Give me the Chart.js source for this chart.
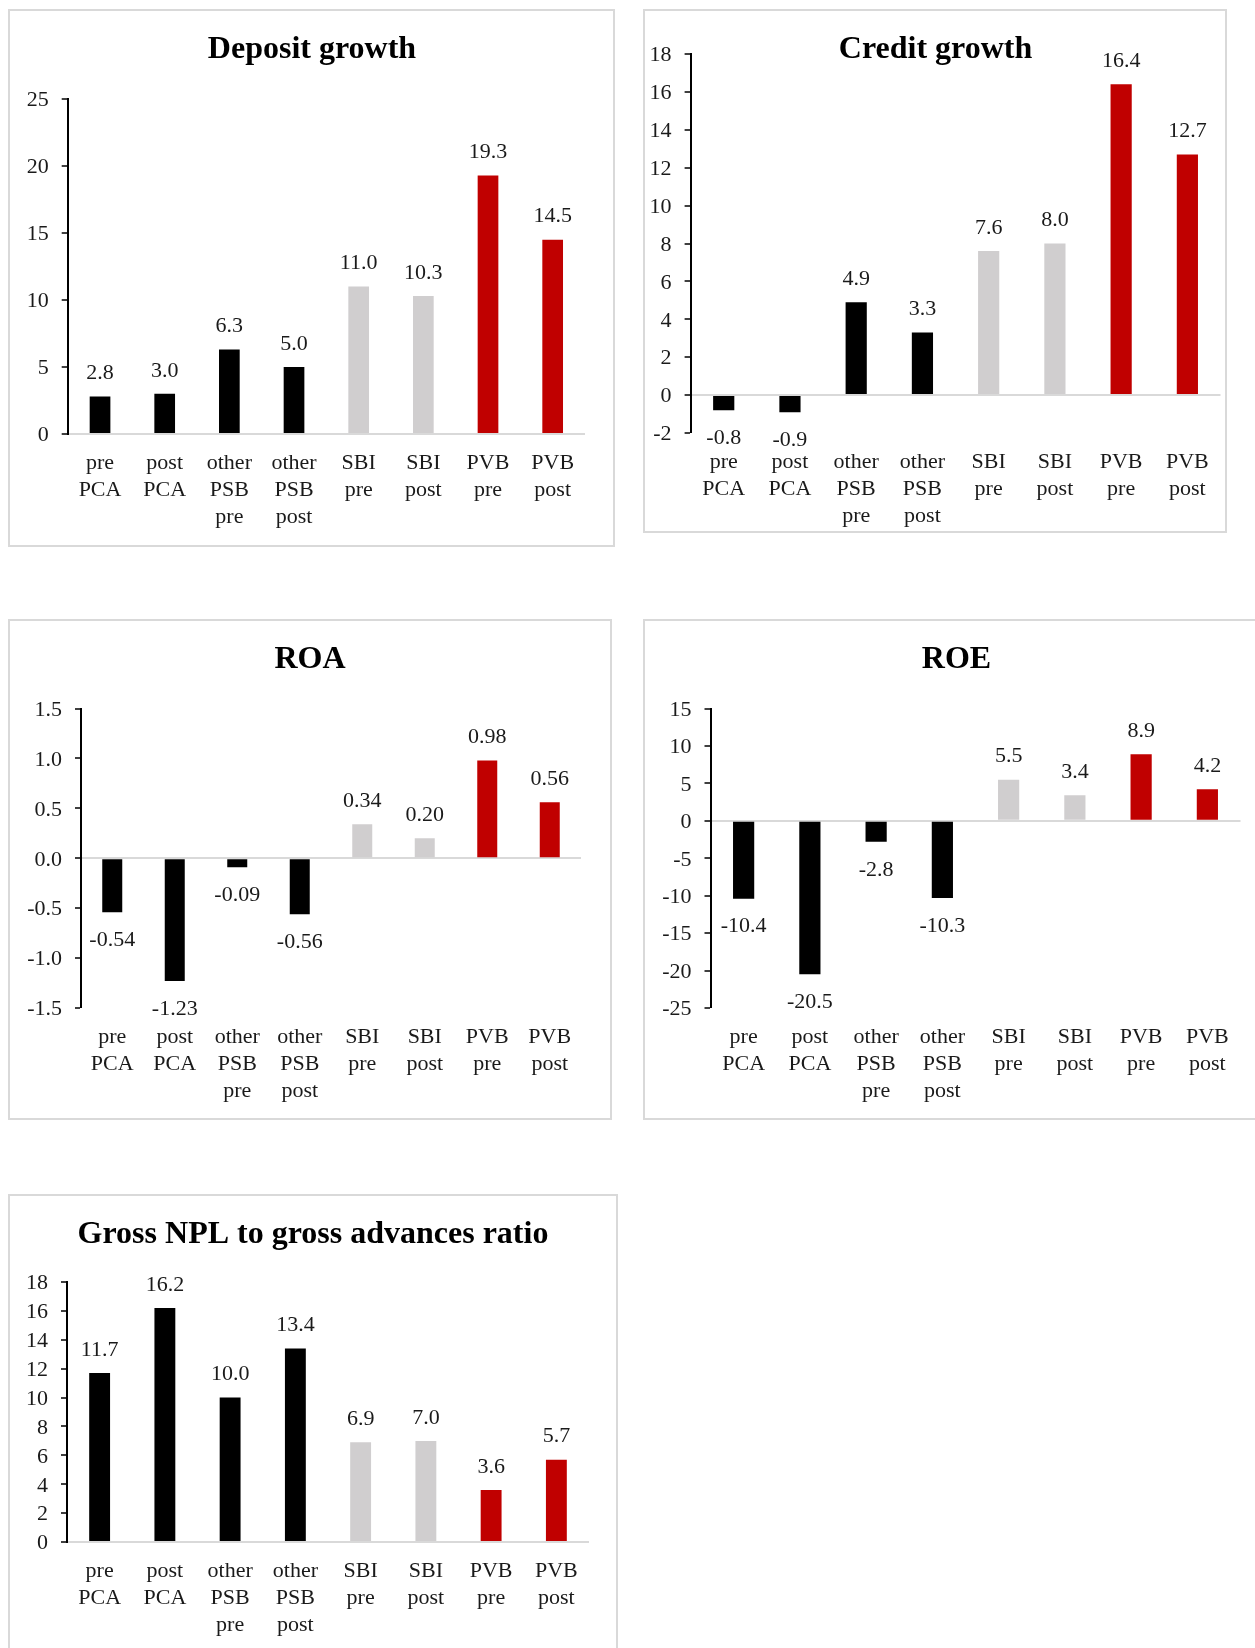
<!DOCTYPE html>
<html><head><meta charset="utf-8">
<script src="https://cdn.jsdelivr.net/npm/chart.js@4.4.1/dist/chart.umd.min.js"></script>
<style>
html,body{margin:0;padding:0;background:#fff;overflow:hidden;width:1255px;height:1648px;position:relative}
.box{position:absolute;border:2px solid #d9d9d9;box-sizing:border-box}
canvas{position:absolute}
</style></head><body>
<script>
// ---- data ----
const categories = [['pre','PCA'],['post','PCA'],['other','PSB','pre'],['other','PSB','post'],['SBI','pre'],['SBI','post'],['PVB','pre'],['PVB','post']];
const barColors = ['#000000','#000000','#000000','#000000','#d0cecf','#d0cecf','#c00000','#c00000'];
const depositGrowth = [2.8, 3.0, 6.3, 5.0, 11.0, 10.3, 19.3, 14.5];
const creditGrowth = [-0.8, -0.9, 4.9, 3.3, 7.6, 8.0, 16.4, 12.7];
const roa = [-0.54, -1.23, -0.09, -0.56, 0.34, 0.20, 0.98, 0.56];
const roe = [-10.4, -20.5, -2.8, -10.3, 5.5, 3.4, 8.9, 4.2];
const grossNpl = [11.7, 16.2, 10.0, 13.4, 6.9, 7.0, 3.6, 5.7];
const titles = ['Deposit growth', 'Credit growth', 'ROA', 'ROE', 'Gross NPL to gross advances ratio'];
const yMin = [0, -2, -1.5, -25, 0];
const yMax = [25, 18, 1.5, 15, 18];
const yStep = [5, 2, 0.5, 5, 2];
const tickDecimals = [0, 0, 1, 0, 0];
const labelDecimals = [1, 1, 2, 1, 1];
const seriesList = [depositGrowth, creditGrowth, roa, roe, grossNpl];

// ---- layout (page px) ----
const panels = [
  {box:[8,9,607,538],    area:[67.7,99,585,434],      title:[312,50]},
  {box:[643,9,584,524],  area:[690.6,54,1220.5,433],  title:[935.5,50]},
  {box:[8,619,604,501],  area:[81,708.5,581,1008],    title:[310,660]},
  {box:[643,619,630,501],area:[710.5,708.5,1240.5,1008],title:[956.5,660]},
  {box:[8,1194,610,480], area:[67,1282,589,1542],     title:[313,1235]}
];
const FONT = '"Liberation Serif", "Times New Roman", serif';
const TEXT = '#1a1a1a';
const XH = 100;

const labelPlugin = {
  id: 'valueLabels',
  afterDatasetsDraw(chart, args, opts) {
    const ctx = chart.ctx;
    const meta = chart.getDatasetMeta(0);
    const data = chart.data.datasets[0].data;
    ctx.save();
    ctx.font = '22px ' + FONT;
    ctx.fillStyle = TEXT;
    ctx.textAlign = 'center';
    ctx.textBaseline = 'middle';
    meta.data.forEach((el, i) => {
      const v = data[i];
      const y = v >= 0 ? el.y - 23 : el.y + 28;
      ctx.fillText(v.toFixed(opts.decimals), el.x, y);
    });
    ctx.restore();
  }
};
const titlePlugin = {
  id: 'panelTitle',
  afterDraw(chart, args, opts) {
    const ctx = chart.ctx;
    ctx.save();
    ctx.font = 'bold 32px ' + FONT;
    ctx.fillStyle = '#000';
    ctx.textAlign = 'center';
    ctx.textBaseline = 'middle';
    ctx.fillText(opts.text, opts.x, opts.y);
    ctx.restore();
  }
};

panels.forEach((p, k) => {
  const [bx, by, bw, bh] = p.box;
  const div = document.createElement('div');
  div.className = 'box';
  div.style.left = bx + 'px'; div.style.top = by + 'px';
  div.style.width = bw + 'px'; div.style.height = bh + 'px';
  document.body.appendChild(div);
  const cw = Math.min(bw, 1255 - bx), ch = Math.min(bh, 1648 - by);
  const cv = document.createElement('canvas');
  cv.width = cw; cv.height = ch;
  cv.style.left = bx + 'px'; cv.style.top = by + 'px';
  cv.style.width = cw + 'px'; cv.style.height = ch + 'px';
  document.body.appendChild(cv);
  const [al, at, ar, ab] = p.area;
  const YW = al - bx - 3;
  const pad = {
    left: al - bx - YW,
    top: at - by,
    right: cw - (ar - bx),
    bottom: ch - XH - (ab - by)
  };
  new Chart(cv.getContext('2d'), {
    type: 'bar',
    data: {
      labels: categories,
      datasets: [{
        data: seriesList[k],
        backgroundColor: barColors,
        borderWidth: 0,
        barPercentage: 0.32,
        categoryPercentage: 1.0
      }]
    },
    options: {
      responsive: false,
      animation: false,
      devicePixelRatio: 1,
      layout: {padding: pad},
      plugins: {
        legend: {display: false},
        tooltip: {enabled: false},
        title: {display: false},
        valueLabels: {decimals: labelDecimals[k]},
        panelTitle: {text: titles[k], x: p.title[0] - bx, y: p.title[1] - by}
      },
      scales: {
        x: {
          grid: {display: false, drawTicks: false},
          border: {display: false},
          ticks: {
            color: TEXT, autoSkip: false, maxRotation: 0, minRotation: 0, padding: 16,
            font: {family: FONT, size: 22, lineHeight: '27px'}
          },
          afterFit(s) { s.height = XH; }
        },
        y: {
          min: yMin[k], max: yMax[k],
          ticks: {
            stepSize: yStep[k], color: TEXT, padding: 13, autoSkip: false, labelOffset: 1.5,
            font: {family: FONT, size: 22},
            callback: v => Number(v).toFixed(tickDecimals[k])
          },
          grid: {
            drawOnChartArea: true,
            drawTicks: true,
            tickLength: 6,
            tickColor: '#000',
            tickWidth: 1.5,
            color: c => (c.tick && Math.abs(c.tick.value) < 1e-9) ? '#d9d9d9' : 'rgba(0,0,0,0)',
            lineWidth: c => (c.tick && Math.abs(c.tick.value) < 1e-9) ? 2 : 0
          },
          border: {display: true, color: '#000', width: 2},
          afterFit(s) { s.width = YW; }
        }
      }
    },
    plugins: [labelPlugin, titlePlugin]
  });
});
</script>
</body></html>
